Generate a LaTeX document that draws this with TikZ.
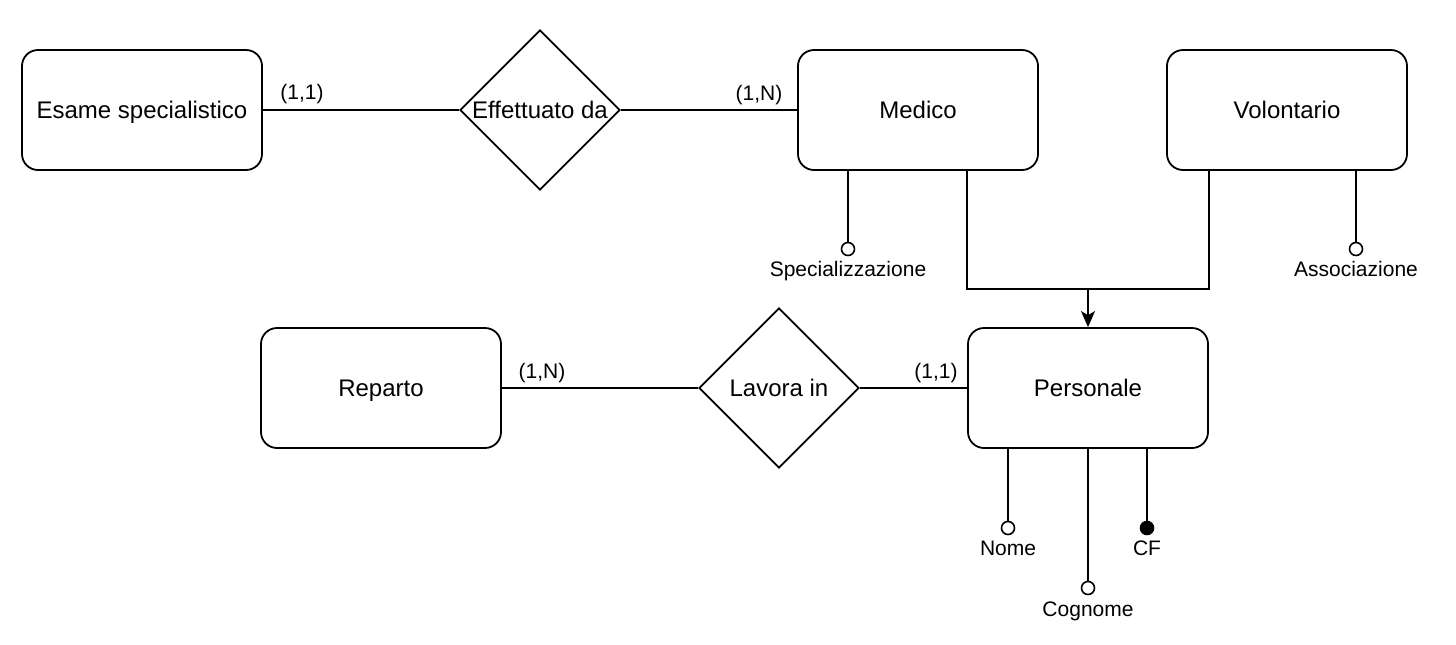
\documentclass[tikz,border=0pt]{standalone}
\usepackage{fontspec}
\setmainfont{Liberation Sans}
\usetikzlibrary{
    arrows.meta,
    shapes.geometric,
    positioning
}
\tikzset{
    entity/.style={rectangle, rounded corners=8pt, draw, minimum width=120pt, minimum height=60pt, text height=8.6pt, text depth=0pt, font=\fontsize{12}{14}\selectfont},
    relation/.style={diamond, draw, aspect=1, inner sep=0pt, minimum size=80pt, text height=8.6pt, text depth=0pt, font=\fontsize{12}{14}\selectfont},
    attr/.style={circle, draw, fill=white, inner sep=0pt, minimum size=6.5pt, line width=0.8pt},
    keyattr/.style={attr, fill=black},
    small/.style={inner sep=1pt, text height=7.5pt, text depth=0pt, font=\fontsize{10.5}{12}\selectfont}
}
\begin{document}
\begin{tikzpicture}[x=0.5pt, y=-0.5pt, line width=0.9pt]
                        \useasboundingbox (0, 0) rectangle (1456, 644);

                        \node[entity] (es) at (142, 110) {Esame specialistico};
                        \node[relation] (ef) at (540, 110) {Effettuato da};
                        \node[entity] (me) at (918, 110) {Medico};
                        \node[entity] (vo) at (1287, 110) {Volontario};
                        \node[entity] (re) at (381, 388) {Reparto};
                        \node[relation] (la) at (779, 388) {Lavora in};
                        \node[entity] (pe) at (1088, 388) {Personale};

                        \node[attr] (spec) at (848, 249) {};
                        \node[attr] (asso) at (1356, 249) {};
                        \node[attr] (nome) at (1008, 528) {};
                        \node[attr] (cogn) at (1088, 588) {};
                        \node[keyattr] (cf) at (1147, 528) {};
                        \coordinate (isa) at (1088, 289);

                        \draw
                        (es) edge (ef)
                        (ef) edge (me)
                        (re) edge (la)
                        (la) edge (pe)
                        (me.south -| spec) edge (spec)
                        (vo.south -| asso) edge (asso)
                        (pe.south -| nome) edge (nome)
                        (pe.south -| cogn) edge (cogn)
                        (pe.south -| cf) edge (cf);

                        \draw (me.south -| pe.west) |- (isa) -| (vo.south -| pe.east);
                        \draw[-{Stealth[length=8pt, width=7pt, inset=2pt]}] (isa) -- (pe.north);

                        \node[small] at (302, 92) {(1,1)};
                        \node[small] at (759, 93) {(1,N)};
                        \node[small] at (542, 371) {(1,N)};
                        \node[small] at (936, 371) {(1,1)};
                        \node[small] at (848, 269) {Specializzazione};
                        \node[small] at (1356, 269) {Associazione};
                        \node[small] at (1008, 548) {Nome};
                        \node[small] at (1088, 609) {Cognome};
                        \node[small] at (1147, 548) {CF};
                    \end{tikzpicture}
\end{document}
